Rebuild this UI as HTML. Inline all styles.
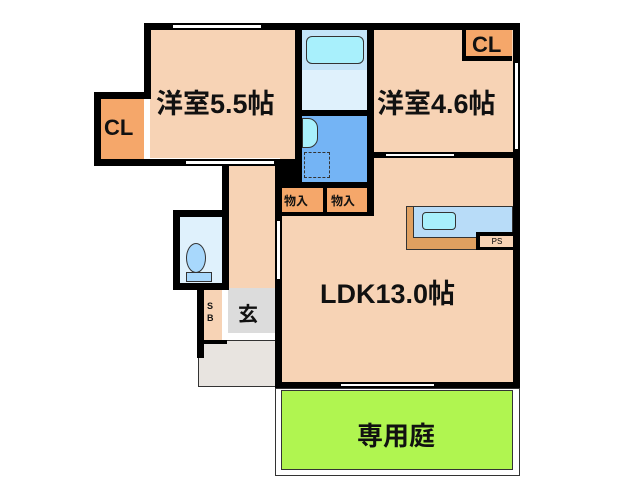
<!DOCTYPE html><html><head><meta charset="utf-8"><style>
body{margin:0;width:638px;height:480px;background:#fff;position:relative;overflow:hidden;font-family:"Liberation Sans","Noto Sans CJK JP",sans-serif}
div{position:absolute;box-sizing:border-box}
.b{background:#000}.t{font-weight:bold;color:#111;white-space:nowrap}
</style></head><body>
<!-- fills -->
<div style="left:150px;top:30px;width:146px;height:128px;background:#f7d3b5"></div>
<div style="left:101px;top:99px;width:43px;height:60px;background:#f5a76a"></div>
<div style="left:374px;top:30px;width:140px;height:123px;background:#f7d3b5"></div>
<div style="left:462px;top:30px;width:50px;height:30px;background:#f5a76a"></div>
<div style="left:280px;top:158px;width:234px;height:225px;background:#f7d3b5"></div>
<div style="left:302px;top:30px;width:66px;height:40px;background:#c3e4f8"></div>
<div style="left:302px;top:70px;width:66px;height:40px;background:#dff1fc"></div>
<div style="left:306px;top:36px;width:58px;height:28px;background:#a8f0fc;border:1px solid #333;border-radius:6px"></div>
<div style="left:302px;top:116px;width:66px;height:66px;background:#74b4f5"></div>
<div style="left:302px;top:118px;width:16px;height:30px;background:#a8f0fc;border:1px solid #333;border-radius:0 10px 10px 0"></div>
<div style="left:304px;top:152px;width:26px;height:26px;border:1px dashed #333"></div>
<div class="b" style="left:275px;top:159px;width:27px;height:29px"></div>
<div style="left:228px;top:164px;width:48px;height:126px;background:#f7d3b5"></div>
<div style="left:278px;top:188px;width:46px;height:26px;background:#f5a76a"></div>
<div style="left:327px;top:188px;width:41px;height:26px;background:#f5a76a"></div>
<div style="left:180px;top:217px;width:44px;height:67px;background:#dff1fc"></div>
<div style="left:186px;top:243px;width:20px;height:30px;background:#a8d8fc;border:1px solid #333;border-radius:50%"></div>
<div style="left:186px;top:272px;width:26px;height:10px;background:#a8d8fc;border:1px solid #333"></div>
<div style="left:204px;top:290px;width:18px;height:60px;background:#f7d3b5"></div>
<div style="left:228px;top:288px;width:48px;height:45px;background:#dcdcdc"></div>
<div style="left:198px;top:340px;width:78px;height:47px;background:#e8e4e0;border:1px solid #333"></div>
<div style="left:406px;top:206px;width:74px;height:44px;background:#e0a060;border:1px solid #333"></div>
<div style="left:413px;top:206px;width:100px;height:32px;background:#b8dcf8;border:1px solid #333"></div>
<div style="left:422px;top:212px;width:34px;height:18px;background:#a8f0fc;border:1px solid #333;border-radius:4px"></div>
<div style="left:476px;top:232px;width:38px;height:18px;background:#000"></div>
<div style="left:480px;top:236px;width:34px;height:11px;background:#f7d3b5;font-size:8px;text-align:center;line-height:11px">PS</div>
<div style="left:275px;top:388px;width:245px;height:88px;border:1px solid #333;background:#fff"></div>
<div style="left:281px;top:390px;width:232px;height:80px;background:#b0f550;border:1px solid #333"></div>
<!-- walls -->
<div class="b" style="left:144px;top:23px;width:376px;height:7px"></div>
<div class="b" style="left:144px;top:23px;width:7px;height:76px"></div>
<div class="b" style="left:94px;top:92px;width:57px;height:7px"></div>
<div class="b" style="left:94px;top:92px;width:7px;height:74px"></div>
<div class="b" style="left:94px;top:159px;width:208px;height:7px"></div>
<div class="b" style="left:295px;top:23px;width:7px;height:165px"></div>
<div class="b" style="left:367px;top:23px;width:7px;height:193px"></div>
<div class="b" style="left:513px;top:23px;width:7px;height:365px"></div>
<div class="b" style="left:295px;top:110px;width:78px;height:6px"></div>
<div class="b" style="left:367px;top:152px;width:153px;height:6px"></div>
<div class="b" style="left:275px;top:182px;width:99px;height:6px"></div>
<div class="b" style="left:275px;top:212px;width:99px;height:4px"></div>
<div class="b" style="left:323px;top:188px;width:4px;height:24px"></div>
<div class="b" style="left:275px;top:166px;width:7px;height:222px"></div>
<div class="b" style="left:222px;top:166px;width:7px;height:124px"></div>
<div class="b" style="left:173px;top:210px;width:56px;height:7px"></div>
<div class="b" style="left:173px;top:210px;width:7px;height:80px"></div>
<div class="b" style="left:173px;top:283px;width:56px;height:7px"></div>
<div class="b" style="left:197px;top:290px;width:7px;height:68px"></div>
<div class="b" style="left:197px;top:340px;width:30px;height:4px"></div>
<div class="b" style="left:275px;top:382px;width:245px;height:6px"></div>
<div class="b" style="left:462px;top:56px;width:50px;height:5px"></div>
<div class="b" style="left:462px;top:30px;width:4px;height:30px"></div>
<!-- windows -->
<div style="left:172px;top:24px;width:90px;height:5px;background:#fff;border:1px solid #000"></div>
<div style="left:385px;top:153px;width:70px;height:4px;background:#fff;border:1px solid #000"></div>
<div style="left:185px;top:160px;width:90px;height:5px;background:#fff;border:1px solid #000"></div>
<div style="left:340px;top:383px;width:95px;height:4px;background:#fff;border:1px solid #000"></div>
<div style="left:276px;top:220px;width:5px;height:60px;background:#fff;border:1px solid #000"></div>
<div style="left:514px;top:62px;width:5px;height:88px;background:#fff;border:1px solid #000"></div>
<!-- labels -->
<div class="t" style="left:156px;top:82px;font-size:27px">洋室5.5帖</div>
<div class="t" style="left:377px;top:82px;font-size:27px">洋室4.6帖</div>
<div class="t" style="left:104px;top:115px;font-size:22px">CL</div>
<div class="t" style="left:472px;top:32px;font-size:22px">CL</div>
<div class="t" style="left:284px;top:192px;font-size:12px">物入</div>
<div class="t" style="left:331px;top:192px;font-size:12px">物入</div>
<div class="t" style="left:320px;top:272px;font-size:27px">LDK13.0帖</div>
<div class="t" style="left:238px;top:298px;font-size:20px">玄</div>
<div class="t" style="left:207px;top:300px;font-size:9px;line-height:12px">S<br>B</div>
<div class="t" style="left:357px;top:416px;font-size:26px">専用庭</div>
</body></html>
